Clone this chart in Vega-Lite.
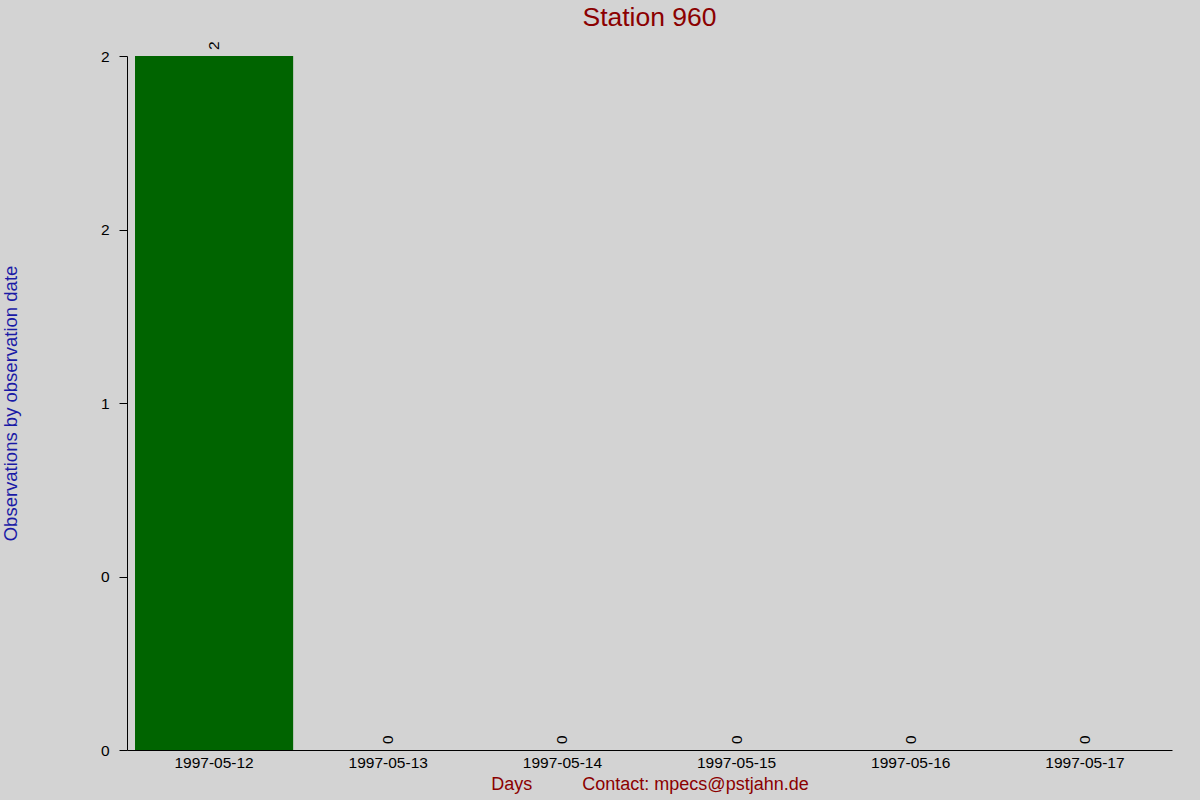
{
  "$schema": "https://vega.github.io/schema/vega-lite/v6.json",
  "width": 1045,
  "height": 694,
  "autosize": "none",
  "padding": {"left": 127, "top": 56, "right": 28, "bottom": 50},
  "background": "#d3d3d3",
  "config": {
    "view": {"stroke": null},
    "font": "Liberation Sans"
  },
  "title": {
    "text": "Station 960",
    "color": "#8b0000",
    "fontSize": 26.5,
    "fontWeight": "normal",
    "font": "Liberation Sans",
    "anchor": "middle",
    "offset": 10
  },
  "data": {
    "values": [
      {"day": "1997-05-12", "count": 2},
      {"day": "1997-05-13", "count": 0},
      {"day": "1997-05-14", "count": 0},
      {"day": "1997-05-15", "count": 0},
      {"day": "1997-05-16", "count": 0},
      {"day": "1997-05-17", "count": 0}
    ]
  },
  "encoding": {
    "x": {
      "field": "day",
      "type": "ordinal",
      "sort": null,
      "scale": {"paddingInner": 0.092, "paddingOuter": 0.046},
      "axis": {
        "title": "Days\u00a0\u00a0\u00a0\u00a0\u00a0\u00a0\u00a0\u00a0\u00a0\u00a0Contact: mpecs@pstjahn.de",
        "titleColor": "#8b0000",
        "titleFontSize": 18,
        "titleFontWeight": "normal",
        "titlePadding": 5,
        "labelAngle": 0,
        "labelFontSize": 15.5,
        "labelColor": "black",
        "labelPadding": 5,
        "ticks": false,
        "domainColor": "black",
        "domainWidth": 1
      }
    },
    "y": {
      "field": "count",
      "type": "quantitative",
      "scale": {"domain": [0, 2], "nice": false},
      "axis": {
        "title": "Observations by observation date",
        "titleColor": "#1a1aa6",
        "titleFontSize": 18.5,
        "titleFontWeight": "normal",
        "titlePadding": 80,
        "values": [0, 0.5, 1, 1.5, 2],
        "labelExpr": "datum.value == 0.5 ? '0' : format(datum.value, '.0f')",
        "labelFontSize": 15.5,
        "labelColor": "black",
        "labelPadding": 10,
        "tickSize": 8,
        "tickColor": "black",
        "domainColor": "black",
        "grid": false
      }
    }
  },
  "layer": [
    {
      "mark": {"type": "bar", "color": "#006400"}
    },
    {
      "mark": {
        "type": "text",
        "angle": 270,
        "align": "left",
        "baseline": "middle",
        "dx": 6,
        "fontSize": 15.5,
        "color": "black"
      },
      "encoding": {
        "text": {"field": "count", "type": "quantitative"}
      }
    }
  ]
}
